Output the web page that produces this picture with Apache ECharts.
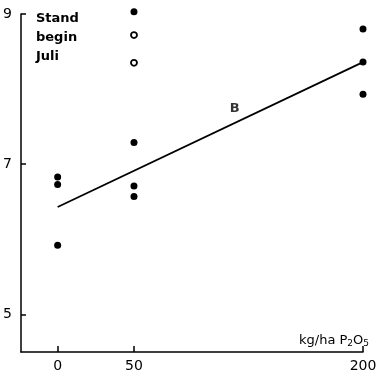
<!DOCTYPE html>
<html>
<head>
<meta charset="utf-8">
<script src="https://cdn.jsdelivr.net/npm/echarts@6/dist/echarts.min.js"></script>
<style>
  html, body { margin: 0; padding: 0; background: #fff; }
  #chart { width: 382px; height: 376px; }
</style>
</head>
<body>
<div id="chart"></div>
<script>
// kg/ha P2O5 and stand values
const xTicks = [0, 50, 200];
const yTicks = [5, 7, 9];
const filledPoints = [
  [0, 6.83], [0, 6.73], [0, 5.92],
  [50, 9.03], [50, 7.29], [50, 6.71], [50, 6.57],
  [200, 8.80], [200, 8.36], [200, 7.93]
];
const openPoints = [[50, 8.72], [50, 8.35]];
const regressionLine = [[0, 6.43], [200, 8.36]];
const lineLabel = [[116, 7.74]];

const chart = echarts.init(document.getElementById('chart'));
const font = 'DejaVu Sans';

chart.setOption({
  animation: false,
  backgroundColor: '#fff',
  title: [
    {
      text: 'Stand\nbegin\nJuli',
      left: 31,
      top: 4,
      textStyle: { fontFamily: font, fontSize: 13, fontWeight: 'bold', color: '#000', lineHeight: 19 }
    },
    {
      text: 'kg/ha P{s|2}O{s|5}',
      right: 8,
      top: 328,
      textStyle: {
        fontFamily: font, fontSize: 13, fontWeight: 'normal', color: '#000',
        rich: {
          s: { fontFamily: font, fontSize: 9, fontWeight: 'normal', color: '#000', verticalAlign: 'bottom', padding: [6, 0, 0, 0] }
        }
      }
    }
  ],
  grid: { left: 21, right: 19, top: 14, bottom: 24 },
  xAxis: {
    type: 'value',
    min: -24,
    max: 200,
    splitLine: { show: false },
    axisLine: { show: true, onZero: false, lineStyle: { color: '#000', width: 1.5 } },
    axisTick: { show: true, inside: true, length: 6, customValues: xTicks, lineStyle: { color: '#000', width: 1.5 } },
    axisLabel: { customValues: xTicks, fontFamily: font, fontSize: 14, color: '#000', margin: 7 }
  },
  yAxis: {
    type: 'value',
    min: 4.5,
    max: 9,
    splitLine: { show: false },
    axisLine: { show: true, onZero: false, lineStyle: { color: '#000', width: 1.5 } },
    axisTick: { show: true, inside: true, length: 5, customValues: yTicks, lineStyle: { color: '#000', width: 1.5 } },
    axisLabel: { customValues: yTicks, fontFamily: font, fontSize: 14, color: '#000', margin: 9 }
  },
  series: [
    {
      type: 'line',
      data: regressionLine,
      symbol: 'none',
      lineStyle: { color: '#000', width: 1.8 }
    },
    {
      type: 'scatter',
      data: filledPoints,
      clip: false,
      symbol: 'circle',
      symbolSize: 7,
      itemStyle: { color: '#000', opacity: 1 }
    },
    {
      type: 'scatter',
      data: openPoints,
      clip: false,
      symbol: 'circle',
      symbolSize: 6,
      itemStyle: { color: '#fff', borderColor: '#000', borderWidth: 1.8, opacity: 1 }
    },
    {
      type: 'scatter',
      data: lineLabel,
      symbolSize: 0,
      label: {
        show: true,
        position: 'inside',
        formatter: 'B',
        fontFamily: font,
        fontSize: 13,
        fontWeight: 'bold',
        color: '#000'
      }
    }
  ]
});
</script>
</body>
</html>
